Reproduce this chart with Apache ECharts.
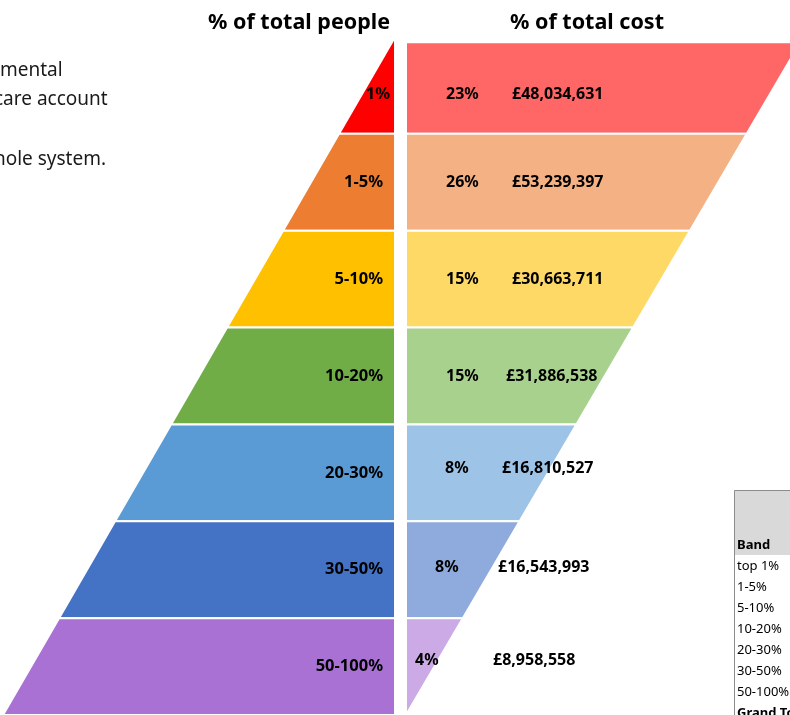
<!DOCTYPE html>
<html>
<head>
<meta charset="utf-8">
<script src="https://cdn.jsdelivr.net/npm/echarts@6/dist/echarts.min.js"></script>
<style>
  html, body { margin: 0; padding: 0; background: #ffffff; }
  #chart { width: 790px; height: 715px; }
</style>
</head>
<body>
<div id="chart"></div>
<script>
// ---------- data ----------
const bands = ['1%', '1-5%', '5-10%', '10-20%', '20-30%', '30-50%', '50-100%'];
const costPct = [23, 26, 15, 15, 8, 8, 4];
const costValues = [48034631, 53239397, 30663711, 31886538, 16810527, 16543993, 8958558];
const tableBands = ['top 1%', '1-5%', '5-10%', '10-20%', '20-30%', '30-50%', '50-100%'];
const titles = ['% of total people', '% of total cost'];
const noteLines = ['mental', 'care account', 'whole system.'];

// ---------- styles ----------
const peopleColors = ['#FF0000', '#ED7D31', '#FFC000', '#70AD47', '#5B9BD5', '#4472C4', '#A971D4'];
const costColors = ['#FF6666', '#F4B183', '#FFD966', '#A9D18E', '#9DC3E6', '#8FAADC', '#CBAAE5'];
const FONT = '"Noto Sans", "Open Sans", sans-serif';
const GAP = 0.098;        // half gap between the two shapes, in band-step units
const COST_TOP = 0.055;   // the cost shape starts slightly lower
const COST_SCALE = 1.014; // the cost shape's slant is a touch wider
// label nudges (px)
const peopleLabelDx = [7, 0, 0, 0, 0, 0, 0];
const peopleLabelDy = [9, 0, 0, 0, 0, 0, 0];
const costPctDx = [40, 40, 40, 40, 39, 29, 9];
const costValDx = [106, 106, 106, 100, 96, 92, 87];
const costDy = [9, 0, 0, 0, -4, -2, -6];

const fmtGBP = v => '£' + String(v).replace(/\B(?=(\d{3})+(?!\d))/g, ',');

const chart = echarts.init(document.getElementById('chart'), null, { renderer: 'canvas' });

const peopleSeries = {
  type: 'custom',
  name: 'people',
  coordinateSystem: 'cartesian2d',
  data: bands.map((b, i) => [i, 0]),
  renderItem: function (params, api) {
    const i = api.value(0);
    const k0 = i, k1 = i + 1;
    const pts = [
      api.coord([-GAP, k0]),
      api.coord([-GAP, k1]),
      api.coord([-GAP - k1, k1]),
      api.coord([-GAP - k0, k0])
    ];
    const c = api.coord([-GAP, i + 0.5]);
    return {
      type: 'group',
      children: [
        { type: 'polygon', shape: { points: pts },
          style: { fill: peopleColors[i], stroke: '#ffffff', lineWidth: 2 } },
        { type: 'text', z2: 10,
          style: { text: bands[i], x: c[0] - 12 + peopleLabelDx[i], y: c[1] + peopleLabelDy[i],
                   align: 'right', verticalAlign: 'middle', font: 'bold 16.5px ' + FONT, fill: '#000000' } }
      ]
    };
  }
};

const costSeries = {
  type: 'custom',
  name: 'cost',
  coordinateSystem: 'cartesian2d',
  data: bands.map((b, i) => [i, costValues[i]]),
  renderItem: function (params, api) {
    const i = api.value(0);
    const t = i === 0 ? COST_TOP : i;
    const b = i + 1;
    const pts = [
      api.coord([GAP, t]),
      api.coord([GAP + (7 - t) * COST_SCALE, t]),
      api.coord([GAP + (7 - b) * COST_SCALE, b]),
      api.coord([GAP, b])
    ];
    const c = api.coord([GAP, i + 0.5]);
    return {
      type: 'group',
      children: [
        { type: 'polygon', shape: { points: pts },
          style: { fill: costColors[i], stroke: '#ffffff', lineWidth: 2 } },
        { type: 'text', z2: 10,
          style: { text: costPct[i] + '%', x: c[0] + costPctDx[i], y: c[1] + costDy[i],
                   align: 'left', verticalAlign: 'middle', font: 'bold 16px ' + FONT, fill: '#000000' } },
        { type: 'text', z2: 10,
          style: { text: fmtGBP(api.value(1)), x: c[0] + costValDx[i], y: c[1] + costDy[i],
                   align: 'left', verticalAlign: 'middle', font: 'bold 16px ' + FONT, fill: '#000000' } }
      ]
    };
  }
};

// ---------- decorative text and table ----------
const graphics = [];
graphics.push({ type: 'text', x: 299, y: 23, z: 10,
  style: { text: titles[0], align: 'center', verticalAlign: 'middle', font: 'bold 21.5px ' + FONT, fill: '#000000' } });
graphics.push({ type: 'text', x: 587, y: 23, z: 10,
  style: { text: titles[1], align: 'center', verticalAlign: 'middle', font: 'bold 21.5px ' + FONT, fill: '#000000' } });

const noteX = [0, -6, -21];
const noteY = [71, 100, 160];
noteLines.forEach((t, j) => {
  graphics.push({ type: 'text', x: noteX[j], y: noteY[j], z: 10,
    style: { text: t, align: 'left', verticalAlign: 'middle', font: '19px ' + FONT, fill: '#1a1a1a' } });
});

// table (bottom right, partially cut)
graphics.push({ type: 'rect', z: 5, shape: { x: 734, y: 490, width: 70, height: 65 }, style: { fill: '#D9D9D9' } });
graphics.push({ type: 'rect', z: 6, shape: { x: 734.5, y: 490.5, width: 100, height: 300 },
  style: { fill: 'none', stroke: '#8C8C8C', lineWidth: 1 } });
graphics.push({ type: 'text', x: 737, y: 545, z: 10,
  style: { text: 'Band', align: 'left', verticalAlign: 'middle', font: 'bold 13px ' + FONT, fill: '#000000' } });
tableBands.forEach((t, j) => {
  graphics.push({ type: 'text', x: 737, y: 566 + 21 * j, z: 10,
    style: { text: t, align: 'left', verticalAlign: 'middle', font: '13px ' + FONT, fill: '#000000' } });
});
graphics.push({ type: 'text', x: 737, y: 566 + 21 * tableBands.length, z: 10,
  style: { text: 'Grand Total', align: 'left', verticalAlign: 'middle', font: 'bold 13px ' + FONT, fill: '#000000' } });

const option = {
  animation: false,
  backgroundColor: '#ffffff',
  grid: { left: 0, top: 37, width: 790, height: 681, containLabel: false },
  xAxis: { type: 'value', min: -7.152, max: 6.955, show: false },
  yAxis: { type: 'value', min: 0, max: 7, inverse: true, show: false },
  series: [peopleSeries, costSeries],
  graphic: graphics
};
chart.setOption(option);
</script>
</body>
</html>
